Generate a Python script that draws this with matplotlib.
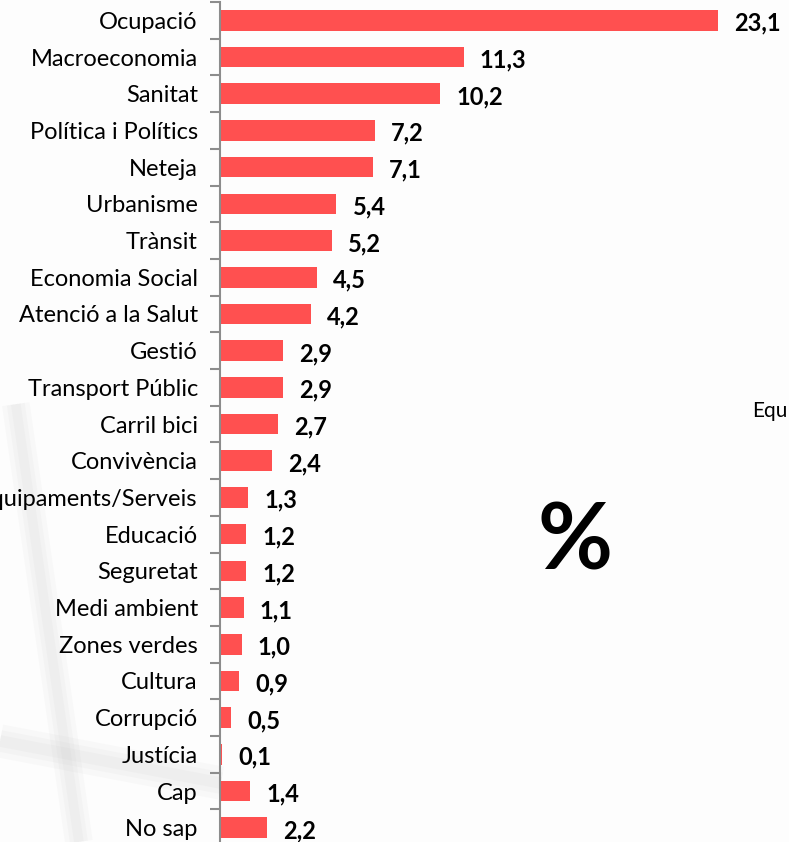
import matplotlib
matplotlib.use("Agg")
import matplotlib.pyplot as plt
from matplotlib.lines import Line2D

categories = [
    "Ocupació", "Macroeconomia", "Sanitat", "Política i Polítics", "Neteja",
    "Urbanisme", "Trànsit", "Economia Social", "Atenció a la Salut", "Gestió",
    "Transport Públic", "Carril bici", "Convivència", "Equipaments/Serveis",
    "Educació", "Seguretat", "Medi ambient", "Zones verdes", "Cultura",
    "Corrupció", "Justícia", "Cap", "No sap",
]
values = [23.1, 11.3, 10.2, 7.2, 7.1, 5.4, 5.2, 4.5, 4.2, 2.9, 2.9, 2.7, 2.4,
          1.3, 1.2, 1.2, 1.1, 1.0, 0.9, 0.5, 0.1, 1.4, 2.2]

BAR_COLOR = "#FF5050"
FONT = "Lato"

W, H = 789, 842
fig = plt.figure(figsize=(W / 100, H / 100), dpi=100)
fig.patch.set_facecolor("#FDFDFD")

# faint, soft background watermark strokes (lower left)
for xs, ys, lw in [([0.02, 0.10], [0.52, 0.0], 20),
                   ([0.0, 0.28], [0.12, 0.07], 24)]:
    for k in (1.0, 0.65, 0.35):
        fig.add_artist(Line2D(xs, ys, transform=fig.transFigure, color="#808080",
                              alpha=0.035, lw=lw * k, solid_capstyle="butt", zorder=0))

n = len(categories)
top_px, step = 2, 36.7
bottom_px = top_px + step * n
ax = fig.add_axes([220 / W, 1 - bottom_px / H, 1 - 220 / W, step * n / H])
ax.set_facecolor("none")

y = list(range(n))
ax.barh(y, values, height=0.56, color=BAR_COLOR, zorder=2)
ax.set_ylim(n - 0.5, -0.5)
ax.set_xlim(0, 26.4)

# value labels, comma decimal
for yi, v in zip(y, values):
    ax.text(v + 0.75, yi + 0.08, f"{v:.1f}".replace(".", ","), va="center",
            ha="left", fontsize=17, fontweight="bold", family=FONT)

ax.set_yticks(y)
ax.set_yticklabels(categories, fontsize=17, family=FONT)
ax.set_yticks([i - 0.5 for i in range(n + 1)], minor=True)
ax.tick_params(axis="y", which="major", length=0, pad=16)
ax.tick_params(axis="y", which="minor", length=7, width=1.5, color="#8C8C8C")
ax.set_xticks([])
for s in ["top", "right", "bottom"]:
    ax.spines[s].set_visible(False)
ax.spines["left"].set_color("#8C8C8C")
ax.spines["left"].set_linewidth(1.5)

fig.text(575 / W, 1 - 543 / H, "%", fontsize=66, fontweight="bold",
         family=FONT, ha="center", va="center")
fig.text(752 / W, 1 - 411 / H, "Equ", fontsize=15, family=FONT,
         ha="left", va="center")

fig.savefig("out.png", dpi=100, facecolor=fig.get_facecolor())
